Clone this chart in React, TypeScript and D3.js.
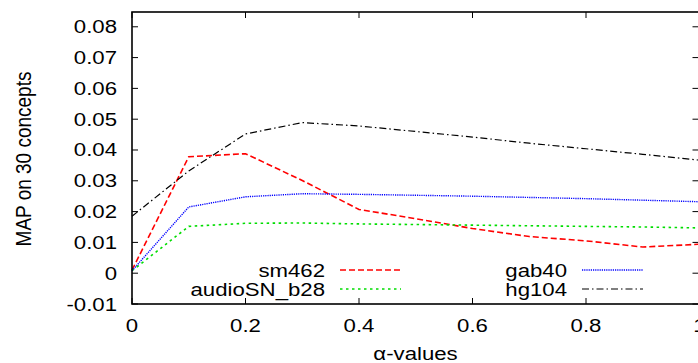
import React from "react";
import * as d3 from "d3";

const alphas = [0, 0.1, 0.2, 0.3, 0.4, 0.5, 0.6, 0.7, 0.8, 0.9, 1.0];
const sm462 = [0.001, 0.0378, 0.0388, 0.0301, 0.0207, 0.0177, 0.0145, 0.0119, 0.0105, 0.0085, 0.0094];
const audioSN_b28 = [0.0008, 0.0152, 0.0162, 0.0163, 0.016, 0.0158, 0.0156, 0.0154, 0.0152, 0.015, 0.0147];
const gab40 = [0.0008, 0.0215, 0.0248, 0.0258, 0.0256, 0.0253, 0.025, 0.0246, 0.0242, 0.0237, 0.0232];
const hg104 = [0.0185, 0.0332, 0.0452, 0.0489, 0.0478, 0.046, 0.0442, 0.0422, 0.0404, 0.0386, 0.0367];

const xTicks = [0, 0.2, 0.4, 0.6, 0.8, 1.0];
const yTicks = [-0.01, 0, 0.01, 0.02, 0.03, 0.04, 0.05, 0.06, 0.07, 0.08];
const xTickLabels = ["0", "0.2", "0.4", "0.6", "0.8", "1"];
const yTickLabels = ["-0.01", "0", "0.01", "0.02", "0.03", "0.04", "0.05", "0.06", "0.07", "0.08"];

const seriesNames = ["sm462", "audioSN_b28", "gab40", "hg104"];
const seriesValues = [sm462, audioSN_b28, gab40, hg104];
const seriesColors = ["#ff0000", "#00dd00", "#0000ff", "#000000"];
const seriesDash = ["6,3", "2.5,3.5", "1.2,1", "7,3,1.5,3"];
const seriesWidth = [1.6, 1.6, 1.4, 1.2];

const W = 698;
const H = 363;
const L = 132;
const R = 699.5;
const T = 12;
const B = 304;
const FS = 18.5;
const SX = 1.2;
const FONT = "'Liberation Sans', Arial, sans-serif";

function Txt({ x, y, anchor, children, size = FS }: any) {
  return (
    <text
      transform={`translate(${x},${y}) scale(${SX},1)`}
      textAnchor={anchor}
      fontSize={size}
      fontFamily={FONT}
      fill="#000"
    >
      {children}
    </text>
  );
}

export default function App() {
  const x = d3.scaleLinear().domain([0, 1]).range([L, R]);
  const y = d3.scaleLinear().domain([-0.01, 0.0848]).range([B, T]);
  const line = d3
    .line<number>()
    .x((_, i) => x(alphas[i]))
    .y((d) => y(d));

  const legend = [
    { textX: 325, lineX1: 340, lineX2: 401, y: 270 },
    { textX: 325, lineX1: 340, lineX2: 401, y: 289 },
    { textX: 567, lineX1: 582, lineX2: 643, y: 270 },
    { textX: 567, lineX1: 582, lineX2: 643, y: 289 },
  ];

  return (
    <svg
      width={W}
      height={H}
      style={{ position: "absolute", left: 0, top: 0, background: "#fff" }}
    >
      <rect x={0} y={0} width={W} height={H} fill="#fff" />
      {yTicks.map((t, i) => (
        <g key={"y" + i}>
          <line x1={L} x2={L + 6} y1={y(t)} y2={y(t)} stroke="#000" strokeWidth={1} />
          <line x1={R - 7} x2={R} y1={y(t)} y2={y(t)} stroke="#000" strokeWidth={1} />
          <Txt x={117} y={y(t) + 6.5} anchor="end">
            {yTickLabels[i]}
          </Txt>
        </g>
      ))}
      {xTicks.map((t, i) => (
        <g key={"x" + i}>
          <line x1={x(t)} x2={x(t)} y1={B} y2={B - 6} stroke="#000" strokeWidth={1} />
          <line x1={x(t)} x2={x(t)} y1={T} y2={T + 6} stroke="#000" strokeWidth={1} />
          <Txt x={x(t)} y={331.5} anchor="middle">
            {xTickLabels[i]}
          </Txt>
        </g>
      ))}
      {seriesValues.map((vals, i) => (
        <path
          key={"s" + i}
          d={line(vals) || ""}
          fill="none"
          stroke={seriesColors[i]}
          strokeWidth={seriesWidth[i]}
          strokeDasharray={seriesDash[i]}
        />
      ))}
      {seriesNames.map((n, i) => (
        <g key={"l" + i}>
          <Txt x={legend[i].textX} y={legend[i].y + 6.5} anchor="end">
            {n}
          </Txt>
          <line
            x1={legend[i].lineX1}
            x2={legend[i].lineX2}
            y1={legend[i].y}
            y2={legend[i].y}
            stroke={seriesColors[i]}
            strokeWidth={seriesWidth[i]}
            strokeDasharray={seriesDash[i]}
          />
        </g>
      ))}
      <rect x={L} y={T} width={R - L} height={B - T} fill="none" stroke="#000" strokeWidth={1.6} />
      <Txt x={415.5} y={360} anchor="middle">
        α-values
      </Txt>
      <text
        transform={`translate(31,159) scale(${SX},1) rotate(-90)`}
        textAnchor="middle"
        fontSize={19}
        fontFamily={FONT}
        fill="#000"
      >
        MAP on 30 concepts
      </text>
    </svg>
  );
}
